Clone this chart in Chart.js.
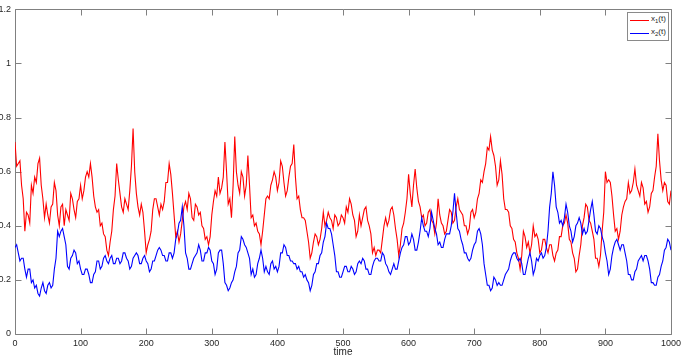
<!DOCTYPE html>
<html>
<head>
<meta charset="utf-8">
<script src="https://cdn.jsdelivr.net/npm/chart.js@4/dist/chart.umd.min.js"></script>
<style>
  html, body { margin: 0; padding: 0; background: #fff; }
  #wrap { position: relative; width: 685px; height: 359px; }
  #legend { position: absolute; left: 627px; top: 12px; width: 42px; height: 29px;
    border: 1px solid #8a8a8a; background: #fff; font-family: "Liberation Sans", Arial, sans-serif;
    font-size: 8px; color: #262626; box-sizing: border-box; }
  .row { position: absolute; left: 0; height: 10px; line-height: 10px; white-space: nowrap; }
  .sw { position: absolute; left: 2px; top: 5px; width: 19px; height: 1px; }
  .lbl { position: absolute; left: 23px; top: -1px; }
  sub { font-size: 6px; vertical-align: -2px; }
</style>
</head>
<body>
<div id="wrap">
  <canvas id="c" width="685" height="359"></canvas>
  <div id="legend">
    <div class="row" style="top:2px"><div class="sw" style="background:#ff0000"></div><span class="lbl">x<sub>1</sub>(t)</span></div>
    <div class="row" style="top:15px"><div class="sw" style="background:#0000ff"></div><span class="lbl">x<sub>2</sub>(t)</span></div>
  </div>
</div>
<script>
// readings at t = 0, 5, 10, ... 1000
const times = [];
for (let i = 0; i <= 200; i++) times.push(i * 5);
// readings at t = 2.5, 7.5, ... 997.5
const midTimes = [];
for (let i = 0; i < 200; i++) midTimes.push(i * 5 + 2.5);

const x1 = [0.71,0.63,0.55,0.38,0.44,0.55,0.58,0.63,0.55,0.43,
 0.44,0.47,0.56,0.44,0.47,0.40,0.44,0.52,0.46,0.49,
 0.55,0.53,0.60,0.63,0.51,0.45,0.40,0.37,0.31,0.34,
 0.46,0.63,0.52,0.45,0.48,0.53,0.76,0.52,0.44,0.45,
 0.30,0.35,0.46,0.50,0.44,0.46,0.56,0.63,0.52,0.36,
 0.34,0.42,0.49,0.52,0.43,0.48,0.44,0.40,0.35,0.33,
 0.44,0.53,0.58,0.54,0.71,0.48,0.43,0.73,0.55,0.60,
 0.51,0.66,0.43,0.40,0.38,0.33,0.44,0.51,0.55,0.60,
 0.53,0.64,0.56,0.53,0.62,0.70,0.50,0.46,0.43,0.38,
 0.28,0.34,0.36,0.35,0.45,0.42,0.43,0.39,0.43,0.41,
 0.43,0.47,0.50,0.44,0.36,0.44,0.43,0.47,0.40,0.30,
 0.29,0.31,0.35,0.43,0.42,0.47,0.39,0.29,0.39,0.45,
 0.59,0.47,0.61,0.49,0.43,0.40,0.45,0.42,0.37,0.50,
 0.41,0.37,0.42,0.45,0.42,0.50,0.45,0.40,0.37,0.45,
 0.43,0.50,0.57,0.60,0.69,0.73,0.66,0.55,0.64,0.50,
 0.46,0.40,0.35,0.30,0.24,0.38,0.32,0.30,0.40,0.37,
 0.30,0.35,0.32,0.33,0.29,0.30,0.36,0.40,0.44,0.35,
 0.30,0.23,0.29,0.40,0.48,0.42,0.38,0.28,0.25,0.38,
 0.60,0.57,0.51,0.38,0.35,0.44,0.49,0.56,0.53,0.61,
 0.53,0.56,0.48,0.45,0.52,0.58,0.74,0.57,0.56,0.49,
 0.53];

const x1Mid = [0.62,0.64,0.50,0.45,0.41,0.52,0.56,0.65,0.50,0.48,
 0.41,0.48,0.53,0.40,0.48,0.46,0.42,0.50,0.43,0.50,
 0.50,0.58,0.58,0.58,0.47,0.46,0.41,0.36,0.29,0.38,
 0.51,0.57,0.47,0.50,0.46,0.62,0.60,0.47,0.48,0.38,
 0.33,0.38,0.50,0.47,0.48,0.49,0.56,0.59,0.44,0.38,
 0.37,0.47,0.46,0.50,0.42,0.47,0.45,0.39,0.36,0.36,
 0.49,0.51,0.52,0.58,0.60,0.50,0.55,0.60,0.52,0.58,
 0.55,0.55,0.44,0.41,0.37,0.38,0.50,0.50,0.57,0.58,
 0.56,0.62,0.51,0.58,0.63,0.58,0.51,0.43,0.42,0.34,
 0.30,0.37,0.33,0.39,0.40,0.45,0.42,0.44,0.40,0.44,
 0.41,0.45,0.48,0.42,0.38,0.40,0.46,0.42,0.37,0.32,
 0.31,0.30,0.40,0.40,0.46,0.44,0.35,0.33,0.41,0.50,
 0.52,0.55,0.54,0.47,0.44,0.41,0.46,0.41,0.41,0.44,
 0.40,0.38,0.46,0.41,0.47,0.46,0.44,0.40,0.39,0.46,
 0.45,0.52,0.56,0.63,0.68,0.68,0.62,0.57,0.59,0.46,
 0.45,0.39,0.34,0.28,0.29,0.36,0.34,0.33,0.36,0.35,
 0.31,0.35,0.30,0.33,0.27,0.31,0.36,0.41,0.41,0.34,
 0.28,0.24,0.33,0.43,0.47,0.41,0.35,0.28,0.29,0.45,
 0.56,0.56,0.44,0.39,0.38,0.47,0.50,0.52,0.56,0.55,
 0.51,0.54,0.49,0.47,0.53,0.62,0.64,0.53,0.55,0.48];

const x2 = [0.32,0.30,0.28,0.24,0.24,0.19,0.17,0.15,0.17,0.16,
 0.18,0.17,0.24,0.38,0.38,0.36,0.25,0.28,0.31,0.26,
 0.24,0.22,0.24,0.19,0.22,0.27,0.24,0.28,0.27,0.28,
 0.26,0.28,0.26,0.30,0.28,0.24,0.28,0.30,0.26,0.28,
 0.27,0.23,0.27,0.29,0.32,0.29,0.27,0.30,0.28,0.35,
 0.41,0.47,0.30,0.24,0.26,0.29,0.33,0.27,0.30,0.32,
 0.27,0.22,0.30,0.31,0.19,0.16,0.19,0.23,0.30,0.36,
 0.33,0.30,0.22,0.21,0.26,0.31,0.23,0.23,0.26,0.24,
 0.23,0.30,0.33,0.29,0.27,0.26,0.24,0.23,0.21,0.20,
 0.16,0.22,0.26,0.29,0.34,0.41,0.39,0.33,0.23,0.21,
 0.23,0.25,0.23,0.24,0.23,0.27,0.28,0.24,0.22,0.25,
 0.28,0.27,0.30,0.26,0.23,0.24,0.24,0.27,0.32,0.36,
 0.33,0.37,0.31,0.34,0.43,0.38,0.36,0.45,0.39,0.33,
 0.32,0.35,0.37,0.40,0.52,0.39,0.35,0.30,0.28,0.28,
 0.33,0.38,0.37,0.26,0.18,0.16,0.21,0.18,0.18,0.20,
 0.23,0.27,0.30,0.28,0.28,0.22,0.25,0.30,0.22,0.28,
 0.29,0.28,0.32,0.47,0.60,0.47,0.41,0.40,0.48,0.40,
 0.34,0.40,0.43,0.37,0.37,0.42,0.49,0.38,0.40,0.36,
 0.30,0.22,0.29,0.34,0.33,0.33,0.30,0.22,0.20,0.23,
 0.27,0.29,0.29,0.27,0.19,0.18,0.21,0.25,0.31,0.35,
 0.31];

const x2Mid = [0.33,0.27,0.28,0.21,0.24,0.20,0.18,0.14,0.19,0.15,
 0.19,0.18,0.28,0.36,0.39,0.33,0.24,0.29,0.30,0.27,
 0.22,0.24,0.22,0.19,0.23,0.27,0.25,0.29,0.26,0.29,
 0.26,0.28,0.27,0.30,0.27,0.25,0.29,0.29,0.26,0.29,
 0.26,0.24,0.27,0.31,0.31,0.29,0.27,0.30,0.30,0.37,
 0.42,0.40,0.28,0.24,0.28,0.30,0.31,0.27,0.30,0.31,
 0.26,0.24,0.31,0.26,0.18,0.17,0.20,0.25,0.31,0.35,
 0.32,0.28,0.24,0.22,0.28,0.28,0.25,0.22,0.27,0.25,
 0.25,0.30,0.32,0.29,0.27,0.26,0.25,0.23,0.22,0.19,
 0.18,0.23,0.26,0.30,0.36,0.39,0.37,0.29,0.23,0.21,
 0.25,0.23,0.25,0.22,0.26,0.26,0.27,0.24,0.22,0.27,
 0.28,0.27,0.29,0.25,0.22,0.26,0.24,0.30,0.33,0.36,
 0.34,0.35,0.31,0.38,0.40,0.38,0.39,0.42,0.37,0.34,
 0.32,0.37,0.37,0.45,0.45,0.38,0.33,0.30,0.27,0.31,
 0.34,0.39,0.33,0.22,0.18,0.17,0.20,0.19,0.18,0.22,
 0.24,0.29,0.30,0.27,0.26,0.22,0.28,0.27,0.24,0.27,
 0.30,0.29,0.38,0.52,0.55,0.45,0.42,0.43,0.45,0.38,
 0.36,0.41,0.41,0.39,0.38,0.46,0.44,0.37,0.39,0.34,
 0.27,0.24,0.32,0.35,0.31,0.33,0.27,0.22,0.20,0.24,
 0.28,0.27,0.29,0.24,0.19,0.18,0.22,0.27,0.32,0.34];

const xTicks = [0,100,200,300,400,500,600,700,800,900,1000];
const yTicks = [0,0.2,0.4,0.6,0.8,1,1.2];
const xTickLabels = ['0','100','200','300','400','500','600','700','800','900','1000'];
const yTickLabels = ['0','0.2','0.4','0.6','0.8','1','1.2'];
const seriesNames = ['x\u2081(t)', 'x\u2082(t)'];
const xTitle = 'time';

function merge(main, mid) {
  const out = [];
  for (let i = 0; i < times.length; i++) {
    out.push({x: times[i], y: main[i]});
    if (i < midTimes.length) out.push({x: midTimes[i], y: mid[i]});
  }
  return out;
}

const AX = '#808080';
const TXT = '#262626';
const FONT = '"Liberation Sans", Arial, sans-serif';

const matlabAxes = {
  id: 'matlabAxes',
  beforeDatasetsDraw(chart) {
    const {ctx, chartArea: a, scales: {x, y}} = chart;
    const L = Math.round(a.left) + 0.5, R = Math.round(a.right) + 0.5;
    const T = Math.round(a.top) + 0.5, B = Math.round(a.bottom) + 0.5;
    ctx.save();
    ctx.strokeStyle = AX;
    ctx.lineWidth = 1;
    ctx.beginPath();
    ctx.rect(L, T, R - L, B - T);
    const tl = 6;
    xTicks.forEach(v => {
      const px = Math.round(x.getPixelForValue(v)) + 0.5;
      ctx.moveTo(px, B); ctx.lineTo(px, B - tl);
      ctx.moveTo(px, T); ctx.lineTo(px, T + tl);
    });
    yTicks.forEach(v => {
      const py = Math.round(y.getPixelForValue(v)) + 0.5;
      ctx.moveTo(L, py); ctx.lineTo(L + tl, py);
      ctx.moveTo(R, py); ctx.lineTo(R - tl, py);
    });
    ctx.stroke();
    ctx.restore();
  }
};

new Chart(document.getElementById('c'), {
  type: 'line',
  data: {
    datasets: [
      { label: seriesNames[0], data: merge(x1, x1Mid),
        borderColor: '#ff0000', borderWidth: 1.1, pointRadius: 0, tension: 0, order: 1 },
      { label: seriesNames[1], data: merge(x2, x2Mid),
        borderColor: '#0000ff', borderWidth: 1.1, pointRadius: 0, tension: 0, order: 0 }
    ]
  },
  options: {
    responsive: false,
    animation: false,
    layout: { padding: { left: 0, right: 10, top: 4, bottom: 0 } },
    plugins: { legend: { display: false }, tooltip: { enabled: false } },
    scales: {
      x: {
        type: 'linear', min: 0, max: 1000,
        afterBuildTicks: s => { s.ticks = xTicks.map(v => ({value: v})); },
        afterFit: s => { s.height = 25; },
        grid: { display: false, drawTicks: false },
        border: { display: false },
        ticks: { padding: 4, color: TXT, font: { family: FONT, size: 9 }, maxRotation: 0,
                 callback: (v, i) => xTickLabels[i] },
        title: { display: true, text: xTitle, color: TXT, font: { family: FONT, size: 10 }, padding: { top: 0, bottom: 1 } }
      },
      y: {
        type: 'linear', min: 0, max: 1.2,
        afterBuildTicks: s => { s.ticks = yTicks.map(v => ({value: v})); },
        afterFit: s => { s.width = 15; },
        grid: { display: false, drawTicks: false },
        border: { display: false },
        ticks: { padding: 4, color: TXT, font: { family: FONT, size: 9 },
                 callback: (v, i) => yTickLabels[i] }
      }
    }
  },
  plugins: [matlabAxes]
});
</script>
</body>
</html>
